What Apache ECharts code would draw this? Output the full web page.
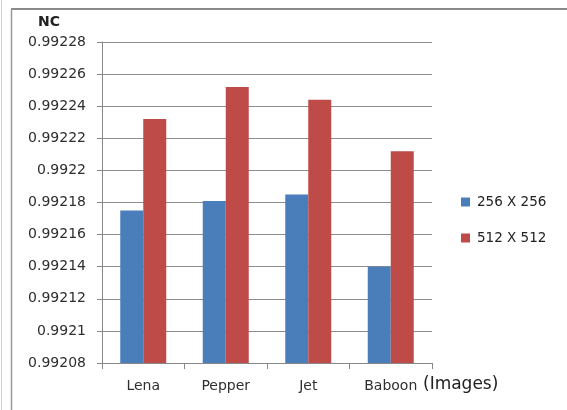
<!DOCTYPE html>
<html>
<head>
<meta charset="utf-8">
<script src="https://cdn.jsdelivr.net/npm/echarts@6/dist/echarts.min.js"></script>
<style>
  html, body { margin: 0; padding: 0; background: #fff; }
  #chart { width: 567px; height: 410px; }
</style>
</head>
<body>
<div id="chart"></div>
<script>
// Normalized correlation per test image for two image sizes
const images = ['Lena', 'Pepper', 'Jet', 'Baboon'];
const nc256 = [0.992175, 0.992181, 0.992185, 0.99214];
const nc512 = [0.992232, 0.992252, 0.992244, 0.992212];
const seriesNames = ['256 X 256', '512 X 512'];

const yMin = 0.99208;
const yMax = 0.99228;
const yStep = 0.00002;

const textColor = '#2e2e2e';
const font = 'DejaVu Sans';

const chart = echarts.init(document.getElementById('chart'), null, { renderer: 'canvas' });

chart.setOption({
  backgroundColor: '#fff',
  animation: false,
  grid: { left: 102, right: 135, top: 42, bottom: 47 },
  graphic: [
    { type: 'line', shape: { x1: 11, y1: 9, x2: 567, y2: 9 }, style: { stroke: '#8a8a8a', lineWidth: 2 } },
    { type: 'line', shape: { x1: 11.5, y1: 9, x2: 11.5, y2: 410 }, style: { stroke: '#9a9a9a', lineWidth: 1.5 } },
    { type: 'line', shape: { x1: 1.5, y1: 0, x2: 1.5, y2: 410 }, style: { stroke: '#cfcfcf', lineWidth: 1 } },
    { type: 'text', left: 38, top: 15, style: { text: 'NC', font: 'bold 14px "' + font + '"', fill: '#222' } },
    { type: 'text', left: 423, top: 376, style: { text: '(Images)', font: '17px "' + font + '"', fill: '#222' } }
  ],
  legend: {
    orient: 'vertical',
    left: 461,
    top: 195,
    padding: 0,
    itemWidth: 9,
    itemHeight: 9,
    itemGap: 22,
    icon: 'rect',
    textStyle: { fontFamily: font, fontSize: 13.5, color: '#222', padding: [0, 0, 0, 2] },
    data: seriesNames
  },
  xAxis: {
    type: 'category',
    data: images,
    axisLine: { lineStyle: { color: '#888', width: 1 } },
    axisTick: { show: true, length: 6, lineStyle: { color: '#888' } },
    axisLabel: { fontFamily: font, fontSize: 14, color: textColor, margin: 16 }
  },
  yAxis: {
    type: 'value',
    min: yMin,
    max: yMax,
    interval: yStep,
    axisLine: { show: true, lineStyle: { color: '#888', width: 1 } },
    axisTick: { show: true, length: 5, lineStyle: { color: '#888' } },
    splitLine: { lineStyle: { color: '#8c8c8c', width: 1 } },
    axisLabel: {
      fontFamily: font,
      fontSize: 14,
      color: textColor,
      margin: 16,
      formatter: v => String(parseFloat(v.toFixed(5)))
    }
  },
  series: [
    {
      name: seriesNames[0],
      type: 'bar',
      data: nc256,
      barWidth: 23,
      barGap: '0%',
      itemStyle: { color: '#4a7ebb' }
    },
    {
      name: seriesNames[1],
      type: 'bar',
      data: nc512,
      barWidth: 23,
      barGap: '0%',
      itemStyle: { color: '#be4b48' }
    }
  ]
});
</script>
</body>
</html>
